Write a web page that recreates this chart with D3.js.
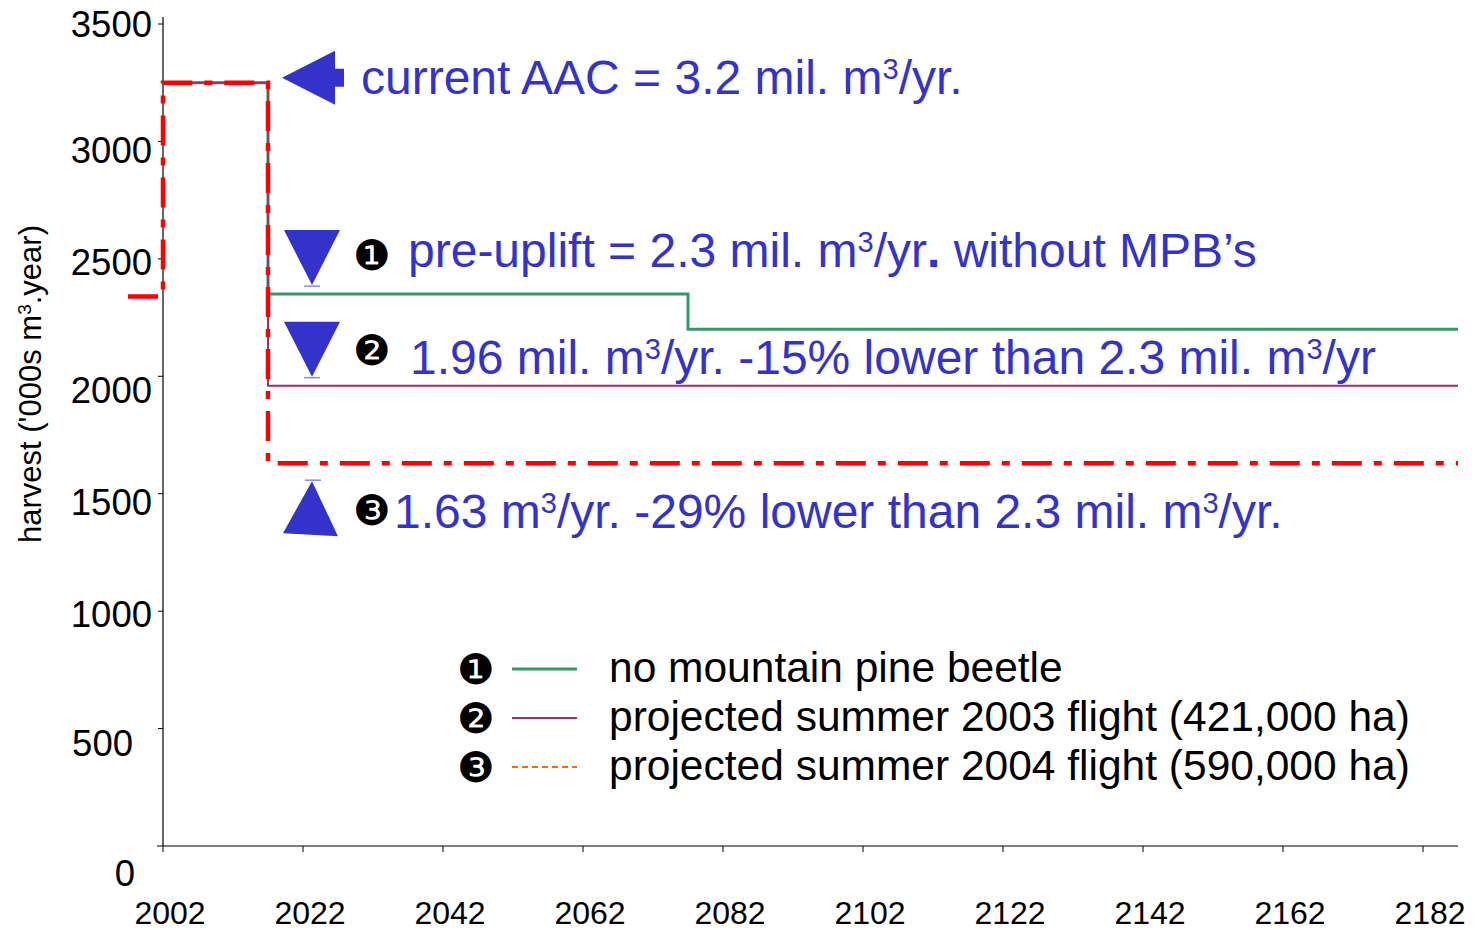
<!DOCTYPE html>
<html><head><meta charset="utf-8">
<script src="https://cdn.jsdelivr.net/npm/d3@7"></script>
<style>
body{margin:0;background:#fff;}
svg{display:block;}
text{font-family:"Liberation Sans",Arial,sans-serif;}
</style></head>
<body>
<svg id="c" width="1480" height="930"></svg>
<script>
// ---- data ----
const yTicks = [0, 500, 1000, 1500, 2000, 2500, 3000, 3500];
const xTicks = [2002, 2022, 2042, 2062, 2082, 2102, 2122, 2142, 2162, 2182];
const noMPB = [[2002, 3250], [2017, 2350], [2077, 2200], [2187, 2200]];
const flight2003 = [[2002, 3250], [2017, 1960], [2187, 1960]];
const flight2004 = [[1997, 2340], [2002, 3250], [2017, 1630], [2187, 1630]];
const legendLabels = ["no mountain pine beetle", "projected summer 2003 flight (421,000 ha)", "projected summer 2004 flight (590,000 ha)"];
const bullets = ["\u2776", "\u2777", "\u2778"];
const markerValues = [2350, 1960, 1630];
const aacValue = 3250;

const svg = d3.select("#c");
const x = d3.scaleLinear().domain([2002, 2187]).range([163, 1458]);
const y = d3.scaleLinear().domain([0, 3500]).range([846, 24]);
const blue = "#3333cc";

// axes
svg.append("line").attr("x1", x(2002)).attr("x2", x(2002)).attr("y1", y(3530)).attr("y2", y(0)).attr("stroke", "#000").attr("stroke-width", 1.2);
svg.append("line").attr("x1", x(2002) - 6).attr("x2", x(2187)).attr("y1", y(0)).attr("y2", y(0)).attr("stroke", "#000").attr("stroke-width", 1.2);
svg.selectAll(".yt").data(yTicks.filter(d => d > 0)).join("line")
  .attr("x1", x(2002) - 5).attr("x2", x(2002)).attr("y1", d => y(d)).attr("y2", d => y(d)).attr("stroke", "#000");
svg.selectAll(".xt").data(xTicks).join("line")
  .attr("x1", d => x(d)).attr("x2", d => x(d)).attr("y1", y(0)).attr("y2", y(0) + 6).attr("stroke", "#000");

const yNudge = {3500: 13, 3000: 22, 2500: 16, 2000: 27, 1500: 21, 1000: 16, 500: 27, 0: 40};
const xNudge = {500: -19, 0: -17};
svg.selectAll(".yl").data(yTicks).join("text")
  .attr("x", d => x(2002) - 11 + (xNudge[d] || 0)).attr("y", d => y(d) + yNudge[d])
  .attr("text-anchor", "end").attr("font-size", 36.5).text(d => d);
svg.selectAll(".xl").data(xTicks).join("text")
  .attr("x", d => x(d) + 7).attr("y", y(0) + 78)
  .attr("text-anchor", "middle").attr("font-size", 32).text(d => d);

svg.append("text").attr("transform", `translate(41,${384}) rotate(-90)`)
  .attr("text-anchor", "middle").attr("font-size", 31)
  .html("harvest ('000s m<tspan font-size='19' dy='-10'>3</tspan><tspan dy='10'>.year)</tspan>");

// lines
const line = d3.line().x(d => x(d[0])).y(d => y(d[1])).curve(d3.curveStepAfter);
svg.append("path").datum(noMPB).attr("d", line).attr("fill", "none").attr("stroke", "#339966").attr("stroke-width", 3);
svg.append("path").datum(flight2003).attr("d", line).attr("fill", "none").attr("stroke", "#993366").attr("stroke-width", 2);
svg.append("path").datum(flight2004).attr("d", line).attr("fill", "none").attr("stroke", "#ff0000").attr("stroke-width", 4.5)
  .attr("stroke-dasharray", "30,12,8,12");

// AAC arrow
const ay = y(aacValue) - 5;
svg.append("path").attr("d", `M282,${ay} L335,${ay - 27} L335,${ay - 9} L344,${ay - 9} L344,${ay + 9} L335,${ay + 9} L335,${ay + 27} Z`).attr("fill", blue);
const SUP = "<tspan font-size='29' dy='-15'>3</tspan>";
svg.append("text").attr("x", 361).attr("y", ay + 16).attr("font-size", 48).attr("fill", blue)
  .html(`current AAC = 3.2 mil. m${SUP}<tspan dy='15'>/yr.</tspan>`);

// markers
const mx = 312;
markerValues.forEach((v, i) => {
  const ty = y(v);
  if (i < 2) {
    const tip = ty - 9;
    svg.append("path").attr("d", `M${mx - 28},${tip - 55} L${mx + 28},${tip - 55} L${mx},${tip} Z`).attr("fill", blue);
    svg.append("line").attr("x1", mx - 8).attr("x2", mx + 8).attr("y1", tip + 1).attr("y2", tip + 1).attr("stroke", "#8888ee").attr("stroke-width", 1.5);
  } else {
    const tip = ty + 18;
    svg.append("path").attr("d", `M${mx},${tip} L${mx + 26},${tip + 55} L${mx - 29},${tip + 52} Z`).attr("fill", blue);
    svg.append("line").attr("x1", mx - 7).attr("x2", mx + 9).attr("y1", tip - 1).attr("y2", tip - 1).attr("stroke", "#8888ee").attr("stroke-width", 1.5);
  }
});

const annY = [y(2350) - 27, y(1960) - 12, y(1630) + 65];
const bulletC = [255, 350, 510];
bullets.forEach((b, i) => {
  svg.append("text").attr("x", 372).attr("y", bulletC[i] + 15).attr("text-anchor", "middle")
    .attr("font-family", "DejaVu Sans").attr("font-size", 42).text(b);
});
svg.append("text").attr("x", 408).attr("y", annY[0]).attr("font-size", 48).attr("fill", blue)
  .html(`pre-uplift = 2.3 mil. m${SUP}<tspan dy='15'>/yr</tspan><tspan font-weight='bold'>.</tspan> without MPB’s`);
svg.append("text").attr("x", 410).attr("y", annY[1]).attr("font-size", 48).attr("fill", blue)
  .html(`1.96 mil. m${SUP}<tspan dy='15'>/yr. -15% lower than 2.3 mil. m</tspan>${SUP}<tspan dy='15'>/yr</tspan>`);
svg.append("text").attr("x", 394).attr("y", annY[2]).attr("font-size", 48).attr("fill", blue)
  .html(`1.63 m${SUP}<tspan dy='15'>/yr. -29% lower than 2.3 mil. m</tspan>${SUP}<tspan dy='15'>/yr.</tspan>`);

// legend
const legY = [669, 718, 767];
const legStyles = [
  {c: "#339966", w: 3, d: null},
  {c: "#993366", w: 2, d: null},
  {c: "#ff6600", w: 2, d: "6,4"}
];
legendLabels.forEach((t, i) => {
  svg.append("text").attr("x", 476).attr("y", legY[i] + 15).attr("text-anchor", "middle")
    .attr("font-family", "DejaVu Sans").attr("font-size", 42).text(bullets[i]);
  svg.append("line").attr("x1", 512).attr("x2", 577).attr("y1", legY[i]).attr("y2", legY[i])
    .attr("stroke", legStyles[i].c).attr("stroke-width", legStyles[i].w).attr("stroke-dasharray", legStyles[i].d);
  svg.append("text").attr("x", 609).attr("y", legY[i] + 13).attr("font-size", 42.5).attr("fill", "#000").text(t);
});
</script>
</body></html>
